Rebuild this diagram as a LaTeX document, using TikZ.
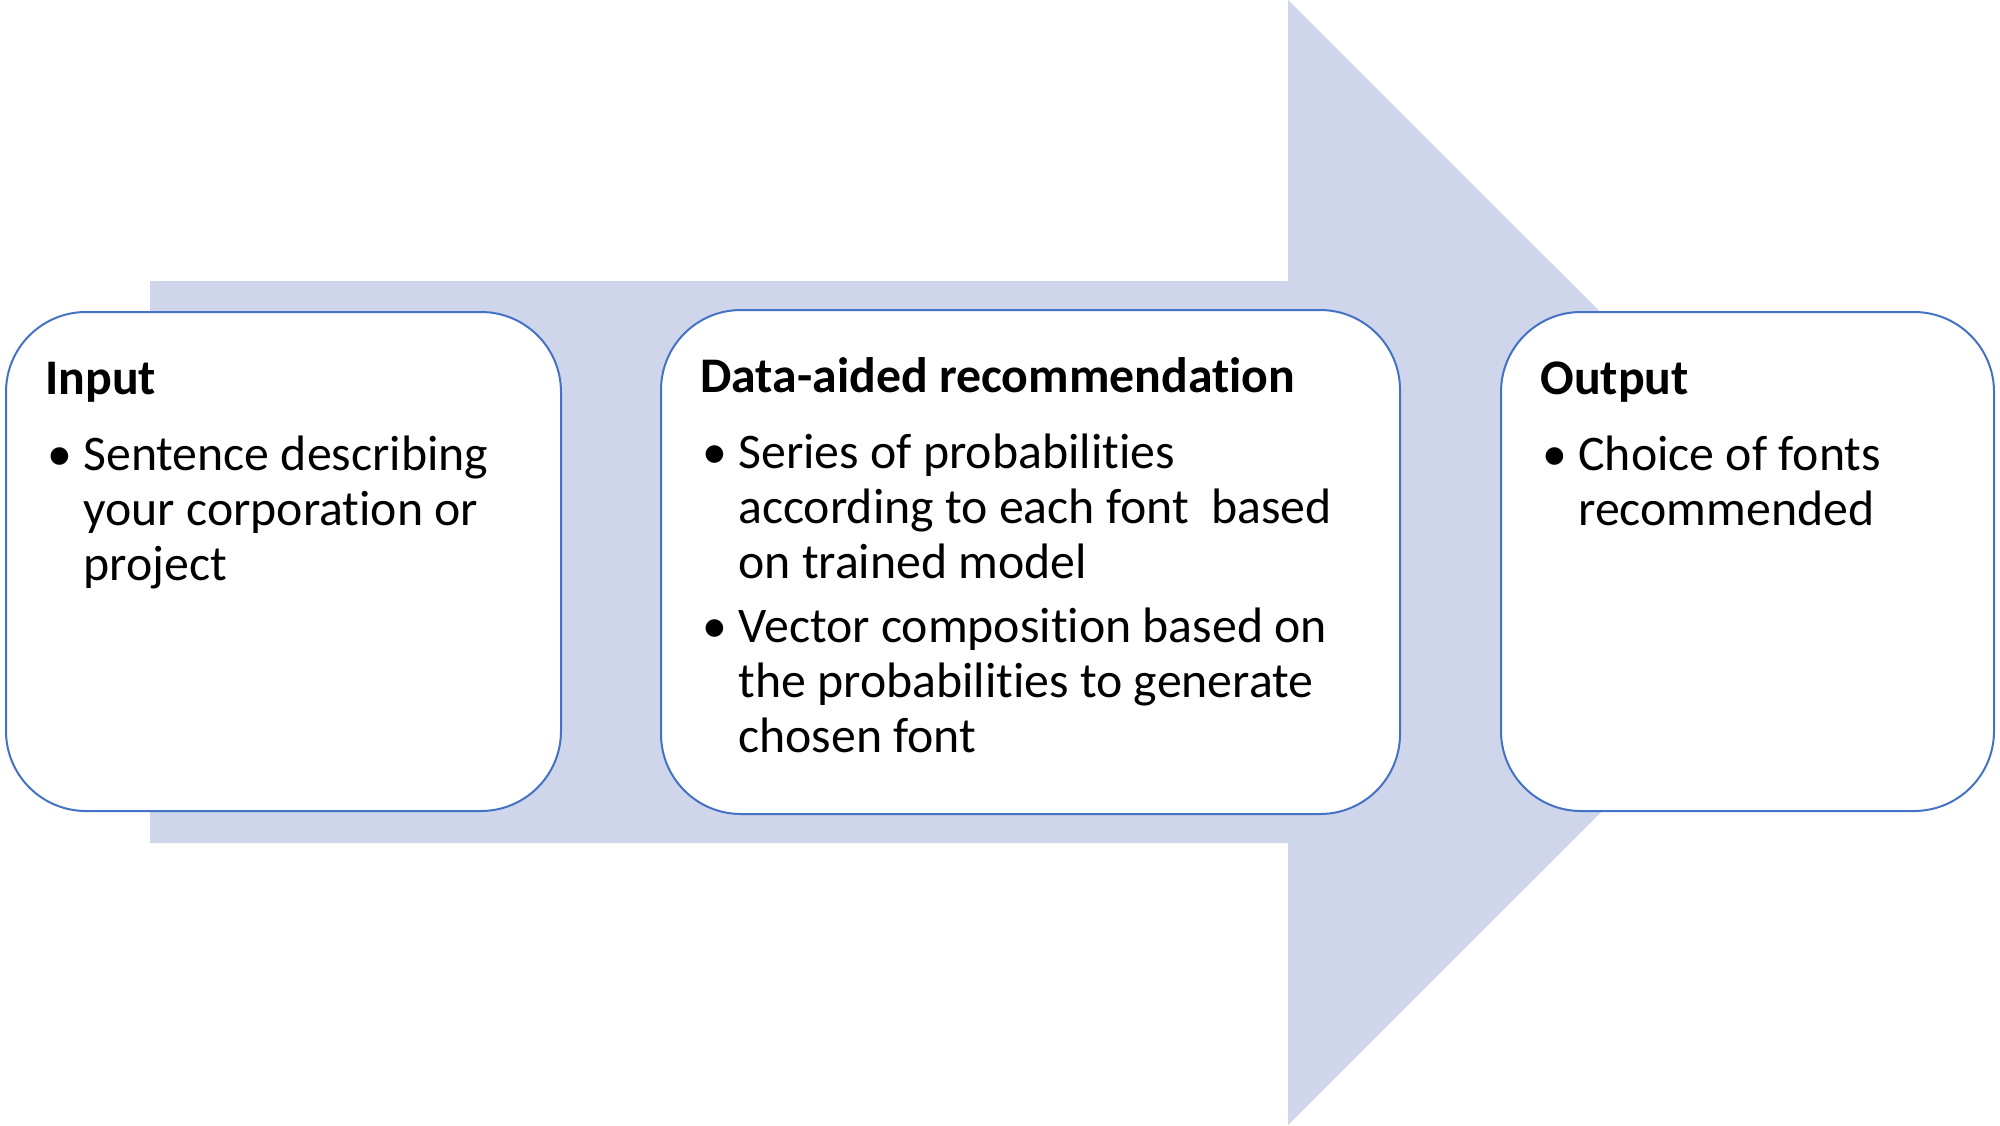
\documentclass[tikz,border=0pt]{standalone}
\usepackage{fontspec}
\setmainfont{Carlito}[Ligatures=NoCommon]
\usetikzlibrary{positioning}
\definecolor{flowfill}{HTML}{CFD5EA}
\definecolor{boxline}{HTML}{4472C4}
\newcommand{\bul}{\makebox[19pt][l]{\hspace{1pt}\textbullet}}

\begin{document}
\begin{tikzpicture}[
    x=0.5pt, y=0.5pt,
    stage/.style={
        rectangle,
        draw=boxline,
        line width=1pt,
        fill=white,
        rounded corners=40pt,
        minimum height=249.5pt,
        inner sep=0pt
    },
    txt/.style={
        inner sep=0pt,
        align=left,
        font=\fontsize{24.9pt}{27.5pt}\selectfont
    }
]
\useasboundingbox (0,0) rectangle (2000,-1125);

% big arrow behind the stages
\fill[flowfill] (150,-281) -- (1288,-281) -- (1288,0) -- (1851,-562.5)
    -- (1288,-1125) -- (1288,-843) -- (150,-843) -- cycle;

% stages
\node[stage, minimum width=277.5pt] (input) at (283.5,-561.5) {};
\node[stage, minimum width=369.5pt, minimum height=252pt] (recommend) at (1030.5,-562) {};
\node[stage, minimum width=246.5pt] (output) at (1747.5,-561.5) {};

% texts
\node[txt, below right=41.5pt and 20pt of input.north west, anchor=base west] (inputtxt) {%
    \begin{tabular}[t]{@{}l@{}l@{}}
    \multicolumn{2}{@{}l@{}}{\bfseries Input}\\[10.7pt]
    \bul & Sentence describing\\
         & your corporation or\\
         & project
    \end{tabular}};
\node[txt, below right=41.5pt and 20pt of recommend.north west, anchor=base west] (recommendtxt) {%
    \begin{tabular}[t]{@{}l@{}l@{}}
    \multicolumn{2}{@{}l@{}}{\bfseries Data-aided recommendation}\\[10.7pt]
    \bul & Series of probabilities\\
         & according to each font\ \ based\\
         & on trained model\\[4.5pt]
    \bul & Vector composition based on\\
         & the probabilities to generate\\
         & chosen font
    \end{tabular}};
\node[txt, below right=41.5pt and 20pt of output.north west, anchor=base west] (outputtxt) {%
    \begin{tabular}[t]{@{}l@{}l@{}}
    \multicolumn{2}{@{}l@{}}{\bfseries Output}\\[10.7pt]
    \bul & Choice of fonts\\
         & recommended
    \end{tabular}};
\end{tikzpicture}
\end{document}
